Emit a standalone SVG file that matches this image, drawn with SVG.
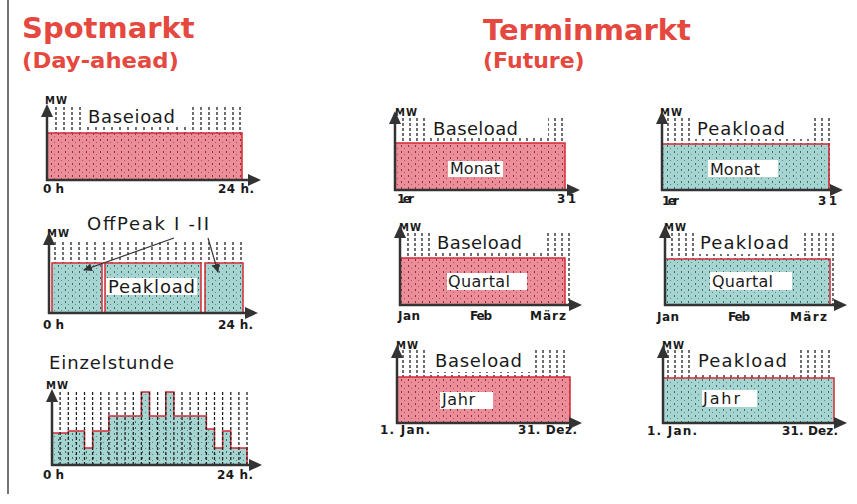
<svg xmlns="http://www.w3.org/2000/svg" width="857" height="504" viewBox="0 0 857 504">
<style>
text{font-family:"DejaVu Sans",Verdana,sans-serif;fill:#1a1a1a}
.h1{font-size:29px;font-weight:bold;fill:#e5483e}
.h2{font-size:22px;font-weight:bold;fill:#e5483e}
.ct{font-size:18px}
.bx{font-size:16px}
.ax{font-size:12px;font-weight:bold}
.mw{font-size:10px;font-weight:bold}
.grid{stroke:#222;stroke-width:1.3;stroke-dasharray:3 2;fill:none}
.axis{stroke:#333;stroke-width:2.5;fill:none;marker-end:url(#ah)}
.base{fill:url(#pink);stroke:#d32a36;stroke-width:1.5}
.peak{fill:url(#teal);stroke:#d32a36;stroke-width:1.5}
.wb{fill:#fff}
.conn{stroke:#333;stroke-width:1.2;fill:none;marker-end:url(#ca)}
</style>
<defs>
<pattern id="pink" width="7" height="6" patternUnits="userSpaceOnUse">
<rect width="7" height="6" fill="#ea8f99"/>
<rect x="2" y="1" width="1" height="2" fill="#a02838"/>
<rect x="5" y="4" width="1" height="1" fill="#b84858"/>
</pattern>
<pattern id="teal" width="7" height="6" patternUnits="userSpaceOnUse">
<rect width="7" height="6" fill="#a5d4d1"/>
<rect x="2" y="1" width="1" height="2" fill="#3a6f6d"/>
<rect x="5" y="4" width="1" height="1" fill="#558a87"/>
</pattern>
<marker id="ah" viewBox="0 0 13 12" refX="5" refY="6" markerWidth="13" markerHeight="12" markerUnits="userSpaceOnUse" orient="auto">
<path d="M0,0 L13,6 L0,12 z" fill="#333"/>
</marker>
<marker id="ca" viewBox="0 0 9 8" refX="8" refY="4" markerWidth="9" markerHeight="8" markerUnits="userSpaceOnUse" orient="auto">
<path d="M0,0 L9,4 L0,8 z" fill="#333"/>
</marker>
</defs>
<rect width="857" height="504" fill="#fff"/>
<path d="M8,0 V494" stroke="#444" stroke-width="1.5"/>

<g id="headings">
<text class="h1" x="22" y="38">Spotmarkt</text>
<text class="h2" x="22" y="68" textLength="157" lengthAdjust="spacingAndGlyphs">(Day-ahead)</text>
<text class="h1" x="483" y="40">Terminmarkt</text>
<text class="h2" x="483" y="68">(Future)</text>
</g>

<g id="spot-baseload">
<path class="grid" d="M56,107V180M64,107V180M72,107V180M80,107V180M88,107V180M96,107V180M104,107V180M112,107V180M120,107V180M128,107V180M136,107V180M144,107V180M152,107V180M160,107V180M168,107V180M177,107V180M185,107V180M193,107V180M201,107V180M209,107V180M217,107V180M225,107V180M233,107V180M240,107V180"/>
<rect class="wb" x="84" y="106" width="106" height="21"/>
<text class="ct" x="88" y="123" textLength="87">Baseioad</text>
<rect class="base" x="47" y="133" width="195" height="47"/>
<text class="mw" x="45" y="104" textLength="22">MW</text>
<path class="axis" d="M47,181 V112"/>
<path class="axis" d="M46,180 H253"/>
<text class="ax" x="43" y="193">0 h</text>
<text class="ax" x="218" y="193" textLength="36">24 h.</text>
</g>

<g id="spot-peakload">
<text class="ct" x="87" y="230" textLength="122">OffPeak I -II</text>
<path class="grid" d="M55,242V263M63,242V263M71,242V263M79,242V263M87,242V263M95,242V263M104,242V263M112,242V263M120,242V263M128,242V263M136,242V263M144,242V263M152,242V263M160,242V263M168,242V263M176,242V263M185,242V263M193,242V263M201,242V263M209,242V263M217,242V263M225,242V263M233,242V263M241,242V263"/>
<rect class="peak" x="52" y="263" width="50" height="50"/>
<rect class="peak" x="105" y="263" width="96" height="50"/>
<rect class="peak" x="205" y="263" width="38" height="50"/>
<rect class="wb" x="106" y="278" width="91" height="17"/>
<text class="ct" x="108" y="293" font-size="19" textLength="87">Peakload</text>
<text class="mw" x="47" y="237" textLength="22">MW</text>
<path class="axis" d="M49,314 V240"/>
<path class="axis" d="M48,313 H250"/>
<text class="ax" x="43" y="329">0 h</text>
<text class="ax" x="218" y="329" textLength="35">24 h.</text>
</g>

<g id="spot-einzelstunde">
<text class="ct" x="49" y="369" textLength="125">Einzelstunde</text>
<path class="peak" stroke-width="1.2" d="M52,465 V433 H68.25 V431 H84.5 V448 H92.63 V431 H108.88 V416 H141.38 V392 H149.5 V416 H165.75 V392 H173.88 V416 H206.38 V429 H214.5 V448 H222.63 V431 H230.75 V448 H247 V465 Z"/>
<path class="grid" d="M60.1,392V465M68.3,392V465M76.4,392V465M84.5,392V465M92.6,392V465M100.8,392V465M108.9,392V465M117,392V465M125.1,392V465M133.3,392V465M141.4,392V465M149.5,392V465M157.6,392V465M165.8,392V465M173.9,392V465M182,392V465M190.1,392V465M198.3,392V465M206.4,392V465M214.5,392V465M222.6,392V465M230.8,392V465M238.9,392V465M247,392V465"/>
<text class="mw" x="46" y="389" textLength="22">MW</text>
<path class="axis" d="M52,466 V397"/>
<path class="axis" d="M51,465 H254"/>
<text class="ax" x="43" y="479">0 h</text>
<text class="ax" x="217" y="479" textLength="36">24 h.</text>
</g>

<g id="termin-base-monat">
<path class="grid" d="M403,118V190M410,118V190M417,118V190M424,118V190M431,118V190M438,118V190M444,118V190M451,118V190M458,118V190M465,118V190M472,118V190M479,118V190M486,118V190M493,118V190M500,118V190M507,118V190M513,118V190M520,118V190M527,118V190M534,118V190M541,118V190M548,118V190M555,118V190M562,118V190"/>
<rect class="wb" x="428" y="117" width="120" height="21"/>
<text class="ct" x="433" y="135" textLength="85">Baseload</text>
<rect class="base" x="395" y="143" width="170" height="47"/>
<rect class="wb" x="448" y="161" width="55" height="16"/>
<text class="bx" x="450" y="174" textLength="50">Monat</text>
<text class="mw" x="395" y="116" textLength="22">MW</text>
<path class="axis" d="M395,191 V119"/>
<path class="axis" d="M394,190 H572"/>
<text class="ax" x="397" y="203" font-size="11" textLength="17">1er</text>
<text class="ax" x="557" y="203" textLength="19">31</text>
</g>

<g id="termin-peak-monat">
<path class="grid" d="M668,118V190M675,118V190M682,118V190M689,118V190M696,118V190M703,118V190M710,118V190M717,118V190M724,118V190M731,118V190M738,118V190M745,118V190M752,118V190M759,118V190M766,118V190M773,118V190M780,118V190M787,118V190M794,118V190M801,118V190M808,118V190M815,118V190M822,118V190M829,118V190"/>
<rect class="wb" x="693" y="117" width="120" height="22"/>
<text class="ct" x="697" y="135" textLength="88">Peakload</text>
<rect class="peak" x="662" y="144" width="167" height="46"/>
<rect class="wb" x="708" y="160" width="70" height="17"/>
<text class="bx" x="710" y="175" textLength="50">Monat</text>
<text class="mw" x="660" y="116" textLength="22">MW</text>
<path class="axis" d="M662,191 V119"/>
<path class="axis" d="M661,190 H835"/>
<text class="ax" x="662" y="205" font-size="11" textLength="17">1er</text>
<text class="ax" x="818" y="205" textLength="19">31</text>
</g>

<g id="termin-base-quartal">
<path class="grid" d="M408,233V305M415,233V305M422,233V305M429,233V305M436,233V305M443,233V305M450,233V305M457,233V305M464,233V305M471,233V305M478,233V305M485,233V305M492,233V305M499,233V305M506,233V305M513,233V305M520,233V305M527,233V305M534,233V305M541,233V305M548,233V305M555,233V305M562,233V305M569,233V305"/>
<rect class="wb" x="432" y="232" width="111" height="21"/>
<text class="ct" x="437" y="249" textLength="85">Baseload</text>
<rect class="base" x="400" y="258" width="165" height="47"/>
<rect class="wb" x="447" y="273" width="80" height="17"/>
<text class="bx" x="448" y="287" textLength="62">Quartal</text>
<text class="mw" x="399" y="231" textLength="22">MW</text>
<path class="axis" d="M400,306 V233"/>
<path class="axis" d="M399,305 H574"/>
<text class="ax" x="398" y="320" textLength="22">Jan</text>
<text class="ax" x="470" y="320" textLength="22">Feb</text>
<text class="ax" x="530" y="320" textLength="36">März</text>
</g>

<g id="termin-peak-quartal">
<path class="grid" d="M672,233V305M679,233V305M686,233V305M693,233V305M700,233V305M707,233V305M714,233V305M721,233V305M728,233V305M735,233V305M742,233V305M749,233V305M756,233V305M763,233V305M770,233V305M777,233V305M784,233V305M791,233V305M798,233V305M805,233V305M812,233V305M819,233V305M826,233V305M833,233V305"/>
<rect class="wb" x="696" y="232" width="108" height="22"/>
<text class="ct" x="700" y="249" textLength="89">Peakload</text>
<rect class="peak" x="665" y="259" width="165" height="46"/>
<rect class="wb" x="710" y="272" width="82" height="18"/>
<text class="bx" x="712" y="287" textLength="61">Quartal</text>
<text class="mw" x="664" y="231" textLength="22">MW</text>
<path class="axis" d="M665,306 V233"/>
<path class="axis" d="M664,305 H839"/>
<text class="ax" x="657" y="321" textLength="22">Jan</text>
<text class="ax" x="728" y="321" textLength="22">Feb</text>
<text class="ax" x="790" y="321" textLength="37">März</text>
</g>

<g id="termin-base-jahr">
<path class="grid" d="M403,350V423M410,350V423M417,350V423M424,350V423M431,350V423M438,350V423M445,350V423M452,350V423M459,350V423M466,350V423M473,350V423M480,350V423M487,350V423M494,350V423M501,350V423M508,350V423M515,350V423M522,350V423M529,350V423M536,350V423M543,350V423M550,350V423M557,350V423M564,350V423"/>
<rect class="wb" x="430" y="349" width="104" height="23"/>
<text class="ct" x="435" y="367" textLength="87">Baseload</text>
<rect class="base" x="397" y="377" width="173" height="46"/>
<rect class="wb" x="440" y="392" width="53" height="17"/>
<text class="bx" x="442" y="405" textLength="33">Jahr</text>
<text class="mw" x="396" y="349" textLength="22">MW</text>
<path class="axis" d="M397,424 V353"/>
<path class="axis" d="M396,423 H574"/>
<text class="ax" x="380" y="434" textLength="50">1. Jan.</text>
<text class="ax" x="518" y="434" textLength="59">31. Dez.</text>
</g>

<g id="termin-peak-jahr">
<path class="grid" d="M668,350V423M675,350V423M682,350V423M689,350V423M696,350V423M703,350V423M710,350V423M717,350V423M724,350V423M731,350V423M738,350V423M745,350V423M752,350V423M759,350V423M766,350V423M773,350V423M780,350V423M787,350V423M794,350V423M801,350V423M808,350V423M815,350V423M822,350V423M829,350V423"/>
<rect class="wb" x="693" y="349" width="105" height="24"/>
<text class="ct" x="698" y="367" textLength="89">Peakload</text>
<rect class="peak" x="663" y="378" width="171" height="45"/>
<rect class="wb" x="702" y="390" width="55" height="17"/>
<text class="bx" x="703" y="404" textLength="37">Jahr</text>
<text class="mw" x="662" y="349" textLength="22">MW</text>
<path class="axis" d="M663,424 V353"/>
<path class="axis" d="M662,423 H839"/>
<text class="ax" x="647" y="435" textLength="50">1. Jan.</text>
<text class="ax" x="782" y="435" textLength="56">31. Dez.</text>
</g>

<g id="connectors">
<path class="conn" d="M174,238 L84,270"/>
<path class="conn" d="M208,238 L218,272"/>
</g>
</svg>
